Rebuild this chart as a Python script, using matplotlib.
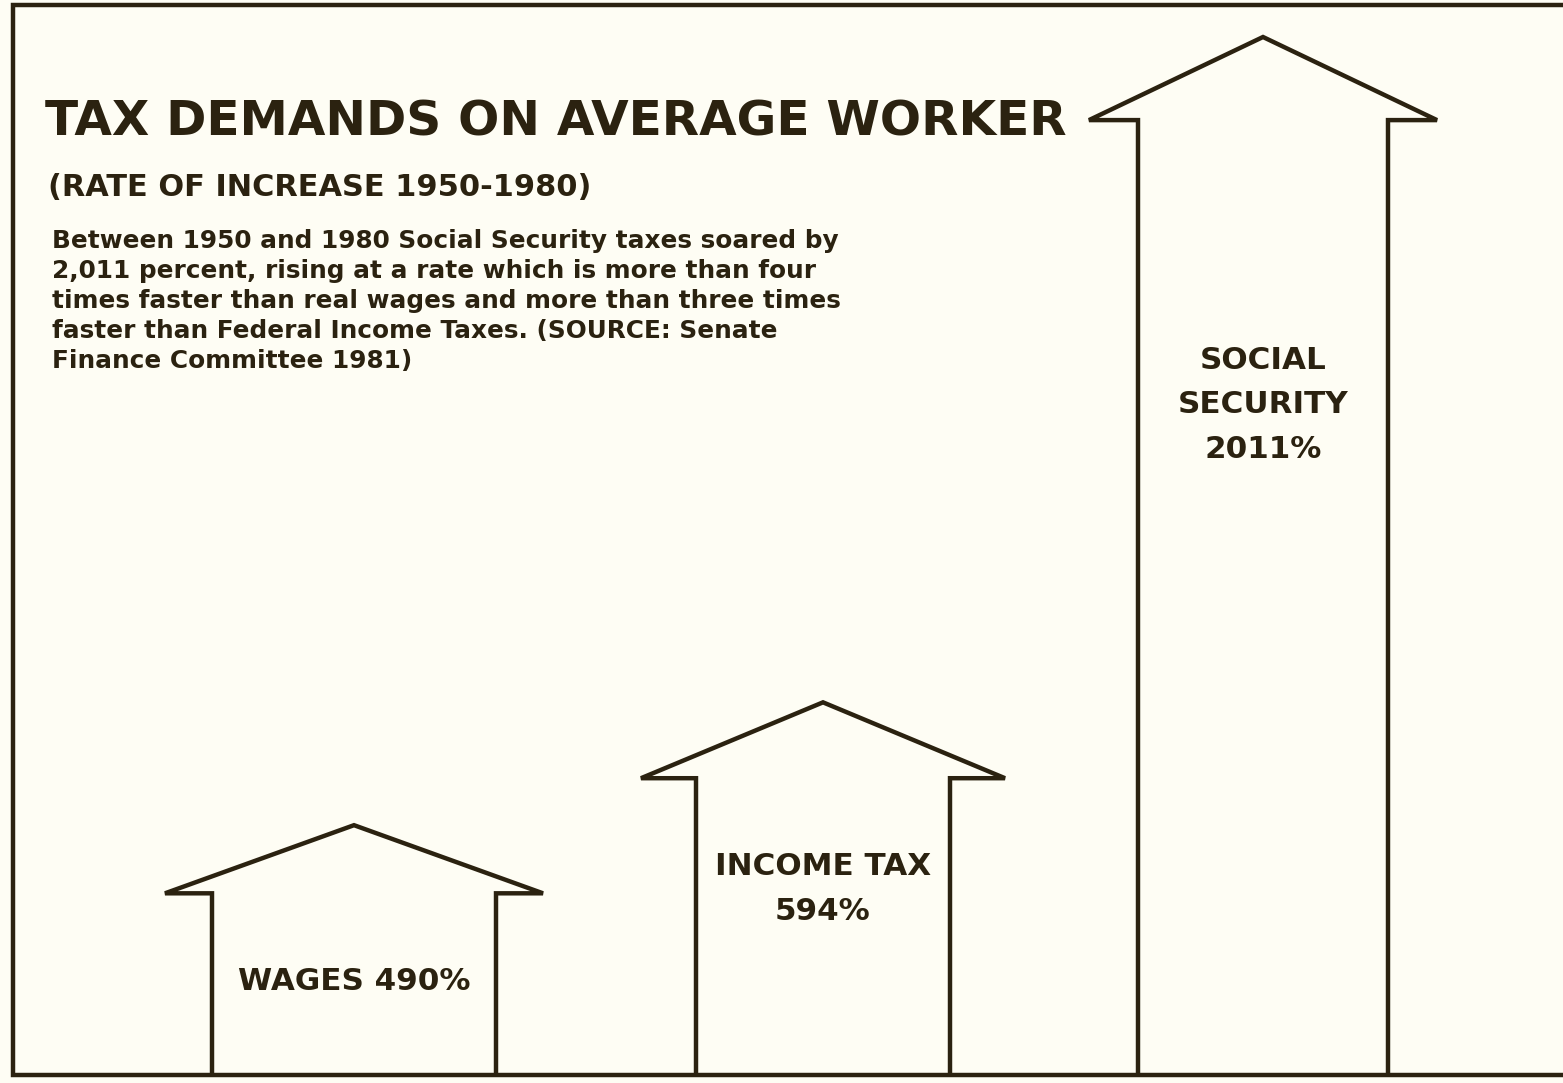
import matplotlib.pyplot as plt

# data
categories = ["WAGES", "INCOME TAX", "SOCIAL\nSECURITY"]
increase = [490, 594, 2011]          # percent increase 1950-1980 (labels)
arrow_tops = [484, 722, 2011]        # arrow tip heights as drawn in the pictogram

title = "TAX DEMANDS ON AVERAGE WORKER"
subtitle = "(RATE OF INCREASE 1950-1980)"
body = ["Between 1950 and 1980 Social Security taxes soared by",
        "2,011 percent, rising at a rate which is more than four",
        "times faster than real wages and more than three times",
        "faster than Federal Income Taxes. (SOURCE: Senate",
        "Finance Committee 1981)"]

ink = "#2b2210"
paper = "#fefdf4"
font = "DejaVu Sans"

W, H = 1563, 1083
fig = plt.figure(figsize=(W / 100, H / 100), dpi=100, facecolor=paper)
ax = fig.add_axes([0, 0, 1, 1])
ax.set_facecolor(paper)

# y scale: baseline at pixel 1075, 2011% tip at pixel 37
k = (1075 - 37) / 2011.0
ax.set_xlim(0, W)
ax.set_ylim(-(H - 1075) / k, 1075 / k)
ax.axis("off")

def py(y):
    # pixel row -> figure fraction
    return 1 - y / H

centers = [354, 823, 1263]
half_w = [142, 127, 125]
wing = [47, 55, 49]
head = [132, 147, 161]

for xc, top, hw, wg, hd in zip(centers, arrow_tops, half_w, wing, head):
    sh = top - hd
    xs = [xc - hw, xc - hw, xc - hw - wg, xc, xc + hw + wg, xc + hw, xc + hw]
    ys = [0, sh, sh, top, sh, sh, 0]
    ax.plot(xs, ys, color=ink, lw=3.2, solid_joinstyle="miter", solid_capstyle="butt")

# frame (right side is cropped off in the original)
ax.plot([W, 13, 13, W], [1075 / k - 5 / k, 1075 / k - 5 / k, 0, 0],
        color=ink, lw=3.2, solid_joinstyle="miter")

# headings
fig.text(45 / W, py(136), title, fontsize=34.9, fontweight="bold", family=font,
         color=ink, va="baseline", ha="left")
fig.text(48 / W, py(196), subtitle, fontsize=21.9, fontweight="bold", family=font,
         color=ink, va="baseline", ha="left")
for i, line in enumerate(body):
    fig.text(52 / W, py(248 + 30 * i), line, fontsize=17.8, fontweight="bold",
             family=font, color=ink, va="baseline", ha="left")

# labels inside arrows
label_rows = [[990], [875, 920], [369, 413, 458]]
for xc, cat, val, rows in zip(centers, categories, increase, label_rows):
    if len(rows) == 1:
        lines = [f"{cat} {val}%"]
    else:
        lines = cat.split("\n") + [f"{val}%"]
        if len(lines) > len(rows):
            lines = [cat.replace("\n", " "), f"{val}%"]
    for txt, r in zip(lines, rows):
        fig.text(xc / W, py(r), txt, fontsize=22.3, fontweight="bold", family=font,
                 color=ink, va="baseline", ha="center")

fig.savefig("out.png", dpi=100, facecolor=paper)
